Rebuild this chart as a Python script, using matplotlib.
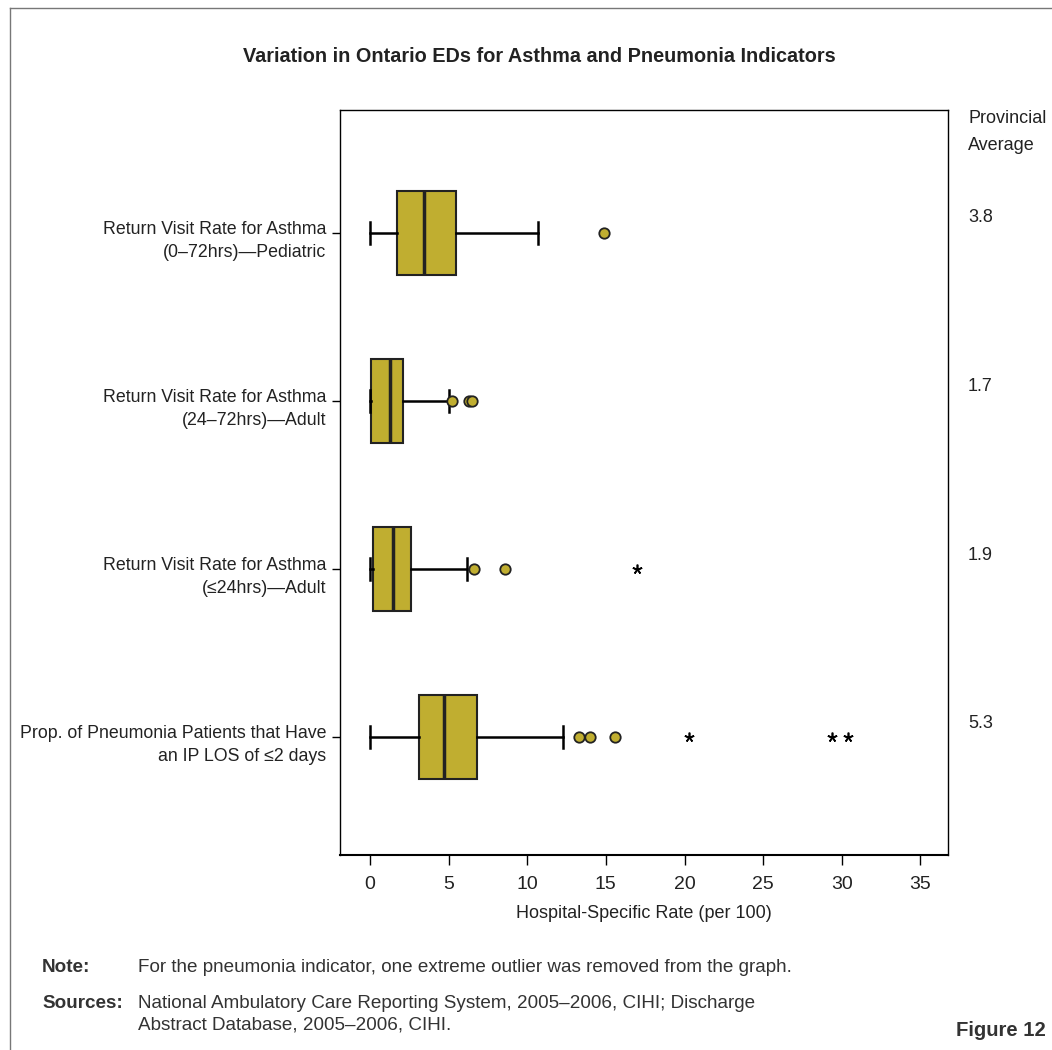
import numpy as np
import matplotlib
matplotlib.use("Agg")
import matplotlib.pyplot as plt
from matplotlib.lines import Line2D

SANS = ['Liberation Sans', 'DejaVu Sans']
plt.rcParams['font.family'] = SANS

# indicators (top to bottom)
labels = ["Return Visit Rate for Asthma\n(0\u201372hrs)\u2014Pediatric",
          "Return Visit Rate for Asthma\n(24\u201372hrs)\u2014Adult",
          "Return Visit Rate for Asthma\n(\u226424hrs)\u2014Adult",
          "Prop. of Pneumonia Patients that Have\nan IP LOS of \u22642 days"]
whislo = [0.0, 0.0, 0.0, 0.0]
q1 = [1.72, 0.06, 0.2, 3.1]
med = [3.43, 1.27, 1.46, 4.73]
q3 = [5.47, 2.1, 2.6, 6.8]
whishi = [10.7, 5.0, 6.2, 12.3]
outliers = [[14.9], [5.2, 6.3, 6.5], [6.6, 8.6], [13.3, 14.0, 15.6]]
extremes = [[], [], [17.0], [20.3, 29.4, 30.4]]
prov_avg = ["3.8", "1.7", "1.9", "5.3"]

gold = "#c0ae30"
txt = "#222222"

fig = plt.figure(figsize=(10.52, 10.50), dpi=100)
ax = fig.add_axes([340/1052, 1-855/1050, 608/1052, 745/1050])

stats = []
for i in range(len(labels)):
    stats.append(dict(whislo=whislo[i], q1=q1[i], med=med[i], q3=q3[i],
                      whishi=whishi[i], fliers=outliers[i]))
pos = np.arange(1, len(labels)+1)
ax.bxp(stats, positions=pos, vert=False, widths=0.5, patch_artist=True,
       boxprops=dict(facecolor=gold, edgecolor="#222222", linewidth=1.5),
       medianprops=dict(color="#222222", linewidth=2.5),
       whiskerprops=dict(color="black", linewidth=1.8),
       capprops=dict(color="black", linewidth=1.8),
       capwidths=0.13,
       flierprops=dict(marker='o', markerfacecolor=gold, markeredgecolor="#222222",
                       markersize=7.5, markeredgewidth=1.3))
for i, ex in enumerate(extremes):
    if ex:
        ax.plot(ex, [pos[i]]*len(ex), linestyle='none', marker=(5, 2, 0),
                color='black', markersize=7, markeredgewidth=1.2)

ax.set_xlim(-1.9, 36.75)
ax.set_ylim(4.7, 0.27)
ax.set_xticks(range(0, 40, 5))
ax.set_yticks(pos)
ax.set_yticklabels([])
ax.tick_params(axis='x', labelsize=14, length=7, width=1, pad=8, labelcolor=txt)
ax.tick_params(axis='y', length=6, width=1)
# category labels: first line sits level with the tick
for i, lab in enumerate(labels):
    ax.annotate(lab, xy=(0, pos[i]), xycoords=ax.get_yaxis_transform(),
                xytext=(-14, 12), textcoords='offset pixels', ha='right', va='top',
                fontsize=12.8, linespacing=1.45, color=txt, annotation_clip=False)
ax.set_xlabel("Hospital-Specific Rate (per 100)", fontsize=13, labelpad=9, color=txt)
for s in ax.spines.values():
    s.set_linewidth(1.0)
ax.spines['bottom'].set_linewidth(1.5)

# provincial average column
fig.text(968/1052, 1-110/1050, "Provincial\nAverage", fontsize=13, va='top',
         ha='left', linespacing=1.75, color=txt)
for i, v in enumerate(prov_avg):
    fig.text(968/1052, 1-(218 + 168.5*i)/1050, v, fontsize=13, va='center', ha='left',
             color=txt)

fig.text(539/1052, 1-57/1050, "Variation in Ontario EDs for Asthma and Pneumonia Indicators",
         fontsize=14.3, fontweight='bold', ha='center', va='center', color=txt)

# notes
note_c = "#333333"
fs_note = 13.6
fig.text(42/1052, 1-967/1050, "Note:", fontsize=fs_note, fontweight='bold', color=note_c,
         va='center')
fig.text(138/1052, 1-967/1050,
         "For the pneumonia indicator, one extreme outlier was removed from the graph.",
         fontsize=fs_note, color=note_c, va='center')
fig.text(42/1052, 1-1004/1050, "Sources:", fontsize=fs_note, fontweight='bold', color=note_c,
         va='center')
fig.text(138/1052, 1-1004/1050,
         "National Ambulatory Care Reporting System, 2005\u20132006, CIHI; Discharge",
         fontsize=fs_note, color=note_c, va='center')
fig.text(138/1052, 1-1025/1050, "Abstract Database, 2005\u20132006, CIHI.",
         fontsize=fs_note, color=note_c, va='center')
fig.text(1046/1052, 1-1030/1050, "Figure 12", fontsize=14.6, fontweight='bold',
         color=note_c, ha='right', va='center')

# page border (top and left)
fig.add_artist(Line2D([10/1052, 10/1052], [0, 1-8/1050], color="#777777", linewidth=1,
                      transform=fig.transFigure))
fig.add_artist(Line2D([10/1052, 1], [1-8/1050, 1-8/1050], color="#777777", linewidth=1,
                      transform=fig.transFigure))

fig.savefig("out.png", dpi=100)
